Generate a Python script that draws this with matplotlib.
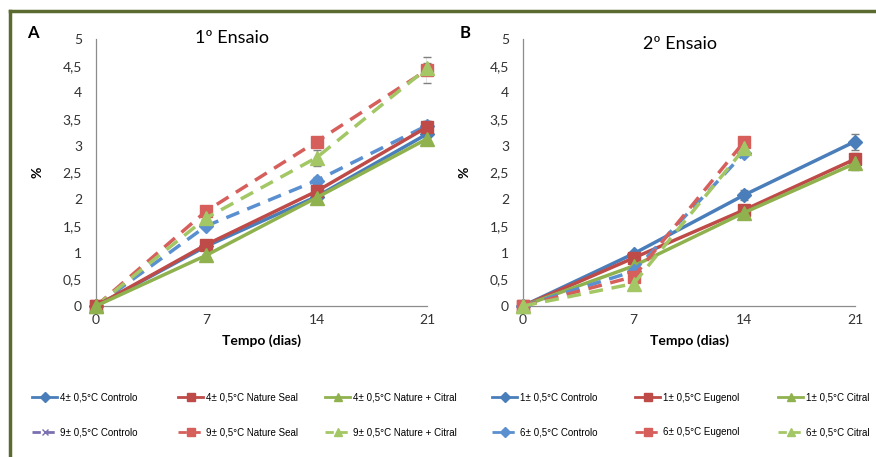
import matplotlib
matplotlib.use("Agg")
import matplotlib.pyplot as plt
from matplotlib.lines import Line2D

plt.rcParams['font.family'] = ['Lato', 'DejaVu Sans']

days_a = [0, 7, 14, 21]
days_b = [0, 7, 14, 21]
days_b_short = [0, 7, 14]

# 1º Ensaio
a_ctrl_4 = [0, 1.12, 2.05, 3.22]
a_seal_4 = [0, 1.15, 2.15, 3.35]
a_citr_4 = [0, 0.95, 2.03, 3.13]
a_ctrl_9 = [0, 1.50, 2.35, 3.38]
a_seal_9 = [0, 1.78, 3.08, 4.42]
a_citr_9 = [0, 1.65, 2.78, 4.45]
a_err_solid = [0, 0.03, 0.10, 0.12]
a_err_ctrl9 = [0, 0.03, 0.06, 0.08]
a_err_seal9 = [0, 0.03, 0.08, 0.25]
a_err_citr9 = [0, 0.03, 0.15, 0.10]

# 2º Ensaio
b_ctrl_1 = [0, 0.98, 2.08, 3.08]
b_eug_1 = [0, 0.90, 1.80, 2.75]
b_citr_1 = [0, 0.75, 1.75, 2.67]
b_ctrl_6 = [0, 0.65, 2.87]
b_eug_6 = [0, 0.55, 3.08]
b_citr_6 = [0, 0.42, 2.95]
b_err_ctrl1 = [0, 0.04, 0.10, 0.15]
b_err_solid = [0, 0.03, 0.06, 0.12]
b_err_dash = [0, 0.04, 0.06]

labels_a = ["4± 0,5°C Controlo", "4± 0,5°C Nature Seal", "4± 0,5°C Nature + Citral",
            "9± 0,5°C Controlo", "9± 0,5°C Nature Seal", "9± 0,5°C Nature + Citral"]
labels_b = ["1± 0,5°C Controlo", "1± 0,5°C Eugenol", "1± 0,5°C Citral",
            "6± 0,5°C Controlo", "6± 0,5°C Eugenol", "6± 0,5°C Citral"]

blue = '#4a7ebb'
red = '#be4b48'
green = '#8fb24f'
blue_l = '#5a8fd0'
red_l = '#d65f5c'
green_l = '#a3c765'

fig = plt.figure(figsize=(8.76, 4.57), dpi=100)
ax_a = fig.add_axes([96/876, 1-306/457, 331/876, 267/457])
ax_b = fig.add_axes([523/876, 1-306/457, 332/876, 267/457])


def draw(ax, x, y, err, color, marker, ms, dashed):
    ls = (0, (4, 2.5)) if dashed else '-'
    ax.errorbar(x, y, yerr=err, color=color, linestyle=ls, lw=2.5,
                marker=marker, ms=ms, mfc=color, mec=color,
                ecolor='#7f7f7f', elinewidth=1, capsize=3, zorder=3)


# panel A (dashed drawn first, solid on top)
draw(ax_a, days_a, a_ctrl_9, a_err_ctrl9, blue_l, 'D', 7.5, True)
draw(ax_a, days_a, a_seal_9, a_err_seal9, red_l, 's', 8.5, True)
draw(ax_a, days_a, a_citr_9, a_err_citr9, green_l, '^', 9.5, True)
draw(ax_a, days_a, a_ctrl_4, a_err_solid, blue, 'D', 7.5, False)
draw(ax_a, days_a, a_seal_4, a_err_solid, red, 's', 8.5, False)
draw(ax_a, days_a, a_citr_4, a_err_solid, green, '^', 9.5, False)

# panel B
draw(ax_b, days_b, b_ctrl_1, b_err_ctrl1, blue, 'D', 7.5, False)
draw(ax_b, days_b, b_eug_1, b_err_solid, red, 's', 8.5, False)
draw(ax_b, days_b, b_citr_1, b_err_solid, green, '^', 9.5, False)
draw(ax_b, days_b_short, b_ctrl_6, b_err_dash, blue_l, 'D', 7.5, True)
draw(ax_b, days_b_short, b_eug_6, b_err_dash, red_l, 's', 8.5, True)
draw(ax_b, days_b_short, b_citr_6, b_err_dash, green_l, '^', 9.5, True)

for ax in (ax_a, ax_b):
    ax.set_xlim(0, 21)
    ax.set_ylim(0, 5)
    ax.set_xticks(days_a)
    ax.set_yticks([0, 0.5, 1, 1.5, 2, 2.5, 3, 3.5, 4, 4.5, 5])
    ax.set_yticklabels(['0', '0,5', '1', '1,5', '2', '2,5', '3', '3,5', '4', '4,5', '5'])
    ax.tick_params(length=0, labelsize=10, colors='#333333', pad=6)
    ax.tick_params(axis='y', pad=10)
    for s in ('top', 'right'):
        ax.spines[s].set_visible(False)
    for s in ('left', 'bottom'):
        ax.spines[s].set_color('#8c8c8c')
        ax.spines[s].set_linewidth(0.9)
    ax.set_xlabel('Tempo (dias)', fontsize=10, fontweight='bold', labelpad=6)
    ax.set_ylabel('%', fontsize=10, fontweight='bold', labelpad=14)
    for ln in ax.get_lines():
        ln.set_clip_on(False)

fig.text(232/876, 1-38/457, '1º Ensaio', fontsize=13, ha='center', va='center')
fig.text(680/876, 1-44/457, '2º Ensaio', fontsize=13, ha='center', va='center')
fig.text(33/876, 1-33/457, 'A', fontsize=12, fontweight='bold', ha='center', va='center')
fig.text(465/876, 1-33/457, 'B', fontsize=12, fontweight='bold', ha='center', va='center')


# legend: one small two-row legend per column
def handle(color, marker, ms, dashed):
    ls = (0, (3, 2)) if dashed else '-'
    return Line2D([], [], color=color, lw=2, linestyle=ls, marker=marker, ms=ms * 0.7,
                  mfc=color, mec=color)


columns = [
    (32, [handle(blue, 'D', 7, False), handle('#7a6fb0', 'x', 7, True)], [labels_a[0], labels_a[3]]),
    (178, [handle(red, 's', 8, False), handle(red_l, 's', 8, True)], [labels_a[1], labels_a[4]]),
    (325, [handle(green, '^', 9, False), handle(green_l, '^', 9, True)], [labels_a[2], labels_a[5]]),
    (492, [handle(blue, 'D', 7, False), handle(blue_l, 'D', 7, True)], [labels_b[0], labels_b[3]]),
    (635, [handle(red, 's', 8, False), handle(red_l, 's', 8, True)], [labels_b[1], labels_b[4]]),
    (778, [handle(green, '^', 9, False), handle(green_l, '^', 9, True)], [labels_b[2], labels_b[5]]),
]
leg_font = {'family': ['Liberation Sans', 'DejaVu Sans'], 'size': 7}
for x0, hs, ls in columns:
    fig.legend(hs, ls, loc='center left', bbox_to_anchor=(x0/876, 1-415/457),
               frameon=False, prop=leg_font, handlelength=2.6, borderpad=0,
               borderaxespad=0, labelspacing=2.5, handletextpad=0.3)

# olive border top and left
border = '#5b6b2f'
fig.add_artist(Line2D([10/876, 1], [1-11/457, 1-11/457], color=border, lw=2.5,
                      transform=fig.transFigure))
fig.add_artist(Line2D([10/876, 10/876], [0, 1-11/457], color=border, lw=2.5,
                      transform=fig.transFigure))

fig.savefig('out.png', dpi=100)
